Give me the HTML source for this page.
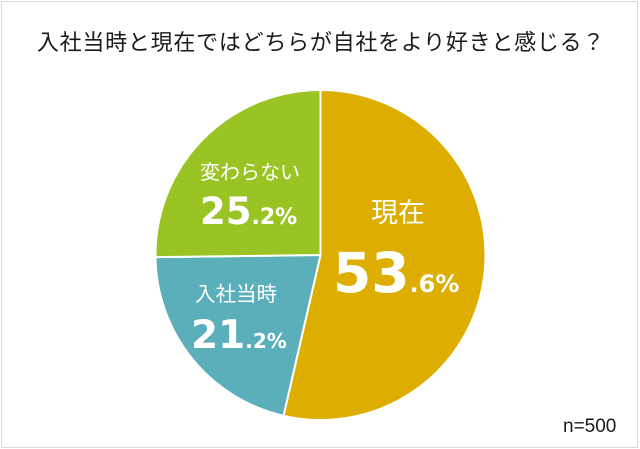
<!DOCTYPE html>
<html><head><meta charset="utf-8"><style>
html,body{margin:0;padding:0;background:#fff;}
svg{display:block;}
</style></head><body>
<svg width="640" height="449" viewBox="0 0 640 449" xmlns="http://www.w3.org/2000/svg">
<rect x="0" y="0" width="640" height="449" fill="#fff"/>
<rect x="1.5" y="1.5" width="636" height="446" fill="none" stroke="#d9d9d9" stroke-width="1"/>
<text x="321" y="50" text-anchor="middle" font-family="'Liberation Sans','Noto Sans CJK JP',sans-serif" font-size="22" letter-spacing="0.75" fill="#1a1a1a">入社当時と現在ではどちらが自社をより好きと感じる？</text>
<g stroke="#fff" stroke-width="2" stroke-linejoin="round">
<path d="M320.5,255 L320.5,90 A165,165 0 1 1 283.5,415.8 Z" fill="#DDAD00"/>
<path d="M320.5,255 L283.5,415.8 A165,165 0 0 1 155.5,257.1 Z" fill="#5AAFBB"/>
<path d="M320.5,255 L155.5,257.1 A165,165 0 0 1 320.5,90 Z" fill="#9AC424"/>
</g>
<g fill="#fff">
<text x="250" y="179" text-anchor="middle" font-family="'Liberation Sans','Noto Sans CJK JP',sans-serif" font-size="20">変わらない</text>
<text x="200" y="224" font-family="'DejaVu Sans',sans-serif" font-weight="bold" font-size="37">25<tspan font-size="22">.2%</tspan></text>
<text x="398" y="222" text-anchor="middle" font-family="'Liberation Sans','Noto Sans CJK JP',sans-serif" font-size="27">現在</text>
<text x="333" y="292" font-family="'DejaVu Sans',sans-serif" font-weight="bold" font-size="55">53<tspan font-size="24">.6%</tspan></text>
<text x="236" y="301" text-anchor="middle" font-family="'Liberation Sans','Noto Sans CJK JP',sans-serif" font-size="20.5">入社当時</text>
<text x="191" y="348" font-family="'DejaVu Sans',sans-serif" font-weight="bold" font-size="39">21<tspan font-size="20">.2%</tspan></text>
</g>
<text x="563" y="432" font-family="'Liberation Sans',sans-serif" font-size="19" fill="#1a1a1a">n=500</text>
</svg>
</body></html>
